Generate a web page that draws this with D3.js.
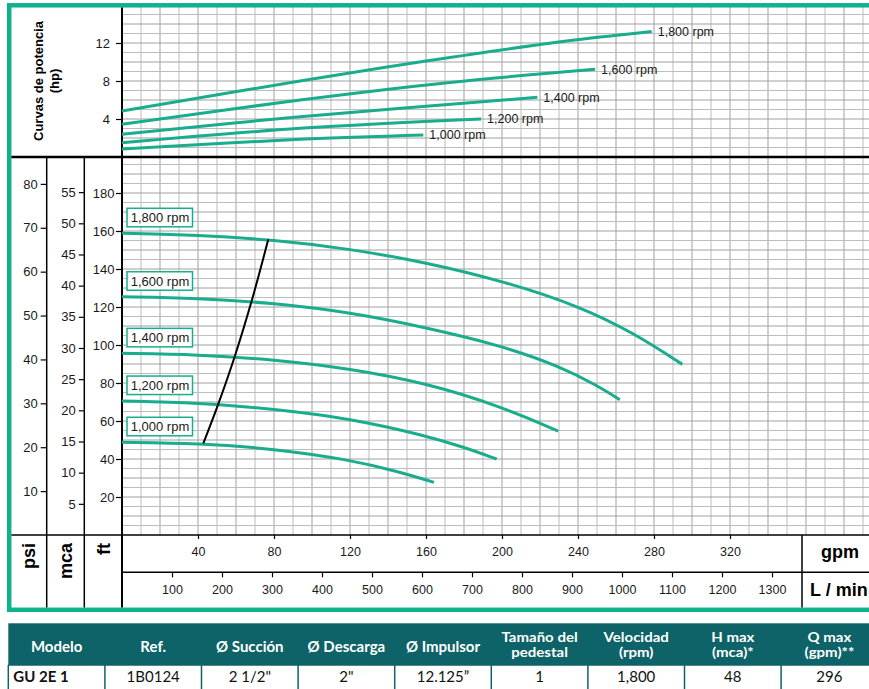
<!DOCTYPE html>
<html><head><meta charset="utf-8">
<script src="https://cdn.jsdelivr.net/npm/d3@7"></script>
<style>body{margin:0;background:#fff;overflow:hidden} svg{display:block}</style>
</head><body>
<svg id="c" width="869" height="689"></svg>
<script>
// ---------- DATA ----------
const rpmLabels = ["1,000 rpm","1,200 rpm","1,400 rpm","1,600 rpm","1,800 rpm"];

// Head curves (gpm, ft)
const headQ_1000 = [0, 40, 80, 120, 145, 164.2];
const headH_1000 = [48.8, 48.3, 45.4, 39.6, 33.5, 27.7];
const headQ_1200 = [0, 40, 80, 120, 160, 180, 197.2];
const headH_1200 = [70.5, 69.7, 66.3, 61.4, 52.3, 46.2, 40.0];
const headQ_1400 = [0, 40, 80, 120, 160, 200, 229.6];
const headH_1400 = [95.6, 95.0, 92.3, 87.6, 80.0, 67.5, 54.7];
const headQ_1600 = [0, 40, 80, 120, 160, 200, 230, 250, 262];
const headH_1600 = [125.4, 124.7, 122.0, 117.2, 109.2, 99.6, 88.9, 78.8, 71.2];
const headQ_1800 = [0, 40, 80, 120, 160, 200, 240, 270, 294.9];
const headH_1800 = [158.8, 157.9, 155.3, 150.6, 143.5, 133.8, 120.8, 106.0, 89.8];

// Black line across curves (gpm, ft)
const bepQ = [42.8, 50.7, 59.5, 68.3, 77.0];
const bepH = [48.2, 69.0, 94.5, 123.4, 155.6];

// Power curves (gpm, hp)
const powQ_1000 = [0, 93.7, 158.6];
const powP_1000 = [0.84, 1.86, 2.32];
const powQ_1200 = [0, 93.7, 189];
const powP_1200 = [1.5, 3.02, 4.0];
const powQ_1400 = [0, 93.7, 218.6];
const powP_1400 = [2.39, 4.24, 6.28];
const powQ_1600 = [0, 93.7, 172.6, 249];
const powP_1600 = [3.44, 6.0, 7.85, 9.23];
const powQ_1800 = [0, 93.7, 160, 227, 278.8];
const powP_1800 = [4.84, 8.0, 10.1, 12.03, 13.2];

// Ticks
const gpmTicks = [40, 80, 120, 160, 200, 240, 280, 320];
const lpmTicks = [100, 200, 300, 400, 500, 600, 700, 800, 900, 1000, 1100, 1200, 1300];
const ftTicks = [20, 40, 60, 80, 100, 120, 140, 160, 180];
const psiTicks = [10, 20, 30, 40, 50, 60, 70, 80];
const mcaTicks = [5, 10, 15, 20, 25, 30, 35, 40, 45, 50, 55];
const hpTicks = [4, 8, 12];

// Table
const tableHeaders = ["Modelo","Ref.","Ø Succión","Ø Descarga","Ø Impulsor","Tamaño del\npedestal","Velocidad\n(rpm)","H max\n(mca)*","Q max\n(gpm)**"];
const tableRow = ["GU 2E 1","1B0124","2 1/2\"","2\"","12.125\u201D","1","1,800","48","296"];

// ---------- DRAW ----------
const W = 869;
const FONT = "'Liberation Sans', Arial, Helvetica, sans-serif";
const TFONT = "Lato, 'Open Sans', sans-serif";
const GREEN = "#19ad8e", FRAME = "#10b28e", TEAL = "#0d6367";
const svg = d3.select("#c").style("font-family", FONT);

const x = d3.scaleLinear().domain([0, 100]).range([122, 312]);
const xL = d3.scaleLinear().domain([0, 1000]).range([122, 622]);
const yFt = d3.scaleLinear().domain([0, 100]).range([535, 345]);
const yPsi = d3.scaleLinear().domain([0, 100]).range([535, 535 - 100 * 2.31 * 1.9]);
const yMca = d3.scaleLinear().domain([0, 100]).range([535, 535 - 100 * 3.281 * 1.9]);
const yHp = d3.scaleLinear().domain([0, 10]).range([157, 62]);

// grid
const grid = svg.append("g").attr("stroke-width", 1);
d3.range(10, 400, 10).forEach(q => {
  if (x(q) < W) grid.append("line").attr("x1", x(q)).attr("x2", x(q)).attr("y1", 7).attr("y2", 535)
    .attr("stroke", (q % 20 === 0) ? "#a0a0a0" : "#bdbdbd");
});
d3.range(5, 200, 5).forEach(f => {
  grid.append("line").attr("x1", 122).attr("x2", W).attr("y1", yFt(f)).attr("y2", yFt(f))
    .attr("stroke", (f % 10 === 0) ? "#a0a0a0" : "#bdbdbd");
});
d3.range(1, 16, 1).forEach(h => {
  grid.append("line").attr("x1", 122).attr("x2", W).attr("y1", yHp(h)).attr("y2", yHp(h))
    .attr("stroke", (h % 2 === 0) ? "#a0a0a0" : "#bdbdbd");
});

// frame and structure lines
svg.append("rect").attr("x", 9.2).attr("y", 5.3).attr("width", 900).attr("height", 604.5)
  .attr("fill", "none").attr("stroke", FRAME).attr("stroke-width", 4.5);
const ln = (x1, y1, x2, y2, w) => svg.append("line").attr("x1", x1).attr("y1", y1).attr("x2", x2).attr("y2", y2)
  .attr("stroke", "#000").attr("stroke-width", w);
ln(11.4, 157, W, 157, 2.5);
ln(122, 7.5, 122, 607.5, 2);
ln(46.7, 157, 46.7, 607.5, 1.5);
ln(84.3, 157, 84.3, 607.5, 1.5);
ln(11.4, 535, W, 535, 1.5);
ln(122, 572.3, W, 572.3, 1.5);
ln(802, 535, 802, 607.5, 1.5);

// left axes
function leftAxis(scale, ticks, xpos, size, pad) {
  const g = svg.append("g").attr("transform", `translate(${xpos},0)`)
    .call(d3.axisLeft(scale).tickValues(ticks).tickSize(size).tickPadding(pad));
  g.select(".domain").remove();
  g.selectAll("line").attr("stroke", "#000").attr("stroke-width", 1.2);
  g.selectAll("text").attr("font-size", 13).attr("font-family", FONT).attr("fill", "#1a1a1a");
  return g;
}
leftAxis(yFt, ftTicks, 122, 6, 1.5);
leftAxis(yPsi, psiTicks, 46.7, 6, 3);
leftAxis(yMca, mcaTicks, 84.3, 5.5, 3);
leftAxis(yHp, hpTicks, 122, 6, 6);

// bottom axes
function bottomAxis(scale, ticks, ypos, size) {
  const g = svg.append("g").attr("transform", `translate(0,${ypos})`)
    .call(d3.axisBottom(scale).tickValues(ticks).tickSize(size).tickFormat(d3.format("d")));
  g.select(".domain").remove();
  g.selectAll("line").attr("stroke", "#000").attr("stroke-width", 1.2);
  g.selectAll("text").attr("y", 17).attr("dy", "0.35em").attr("font-size", 12.5)
    .attr("font-family", FONT).attr("fill", "#1a1a1a");
}
bottomAxis(x, gpmTicks, 535, 4);
bottomAxis(xL, lpmTicks, 572.3, 5);

// unit labels
svg.append("text").attr("x", 840).attr("y", 552).attr("dy", "0.35em").attr("text-anchor", "middle")
  .attr("font-weight", "bold").attr("font-size", 18).text("gpm");
svg.append("text").attr("x", 810).attr("y", 590).attr("dy", "0.35em").attr("text-anchor", "start")
  .attr("font-weight", "bold").attr("font-size", 18).text("L / min");
[["psi", 28.5], ["mca", 66], ["ft", 103.5]].forEach(([t, cx]) => {
  svg.append("text").attr("transform", `translate(${cx},543) rotate(-90)`)
    .attr("text-anchor", "end").attr("dominant-baseline", "central")
    .attr("font-weight", "bold").attr("font-size", 18).text(t);
});
svg.append("text").attr("transform", "translate(38,81) rotate(-90)").attr("text-anchor", "middle")
  .attr("dominant-baseline", "central").attr("font-weight", "bold").attr("font-size", 13).text("Curvas de potencia");
svg.append("text").attr("transform", "translate(54.5,81) rotate(-90)").attr("text-anchor", "middle")
  .attr("dominant-baseline", "central").attr("font-weight", "bold").attr("font-size", 13).text("(hp)");

// head curves
const headQ = [headQ_1000, headQ_1200, headQ_1400, headQ_1600, headQ_1800];
const headH = [headH_1000, headH_1200, headH_1400, headH_1600, headH_1800];
const lineFt = d3.line().x(d => x(d[0])).y(d => yFt(d[1])).curve(d3.curveBasis);
headQ.forEach((q, i) => {
  svg.append("path").attr("d", lineFt(d3.zip(q, headH[i]))).attr("fill", "none")
    .attr("stroke", GREEN).attr("stroke-width", 3);
});
// black line
svg.append("path").attr("d", d3.line().x(d => x(d[0])).y(d => yFt(d[1])).curve(d3.curveCatmullRom)(d3.zip(bepQ, bepH)))
  .attr("fill", "none").attr("stroke", "#000").attr("stroke-width", 2);

// rpm boxes
headQ.forEach((q, i) => {
  const top = yFt(headH[i][0]) - 25;
  svg.append("rect").attr("x", 127).attr("y", top).attr("width", 65.5).attr("height", 18.5)
    .attr("fill", "#fff").attr("stroke", GREEN).attr("stroke-width", 1.5);
  svg.append("text").attr("x", 160).attr("y", top + 9.5).attr("dy", "0.35em").attr("text-anchor", "middle")
    .attr("font-size", 13).attr("fill", "#1a1a1a").text(rpmLabels[i]);
});

// power curves
const powQ = [powQ_1000, powQ_1200, powQ_1400, powQ_1600, powQ_1800];
const powP = [powP_1000, powP_1200, powP_1400, powP_1600, powP_1800];
const lineHp = d3.line().x(d => x(d[0])).y(d => yHp(d[1])).curve(d3.curveCatmullRom.alpha(0.5));
powQ.forEach((q, i) => {
  svg.append("path").attr("d", lineHp(d3.zip(q, powP[i]))).attr("fill", "none")
    .attr("stroke", GREEN).attr("stroke-width", 3);
  const n = q.length - 1;
  svg.append("text").attr("x", x(q[n]) + 6).attr("y", yHp(powP[i][n])).attr("dy", "0.35em")
    .attr("font-size", 12.5).attr("fill", "#1a1a1a").text(rpmLabels[i]);
});

// table
const colX0 = 8.3, colW = 96.6;
const tg = svg.append("g").style("font-family", TFONT);
tg.append("rect").attr("x", colX0).attr("y", 623.3).attr("width", 900).attr("height", 41.7).attr("fill", TEAL);
function headerLine(txt, cx, y, twoLine) {
  const t = tg.append("text").attr("x", cx).attr("y", y).attr("text-anchor", "middle").attr("fill", "#fff")
    .attr("font-weight", "bold").attr("font-size", 15).text(txt);
  if (twoLine) {
    const L = t.node().getComputedTextLength();
    t.attr("font-size", 12.8).attr("textLength", L).attr("lengthAdjust", "spacingAndGlyphs");
  }
}
tableHeaders.forEach((h, i) => {
  const cx = colX0 + colW * (i + 0.5);
  const lines = h.split("\n");
  if (lines.length === 1) headerLine(lines[0], cx, 652, false);
  else { headerLine(lines[0], cx, 641.5, true); headerLine(lines[1], cx, 657, true); }
});
// body row
tg.append("line").attr("x1", colX0).attr("x2", W).attr("y1", 665).attr("y2", 665).attr("stroke", TEAL).attr("stroke-width", 1.5);
d3.range(0, 10).forEach(i => {
  const xx = colX0 + colW * i;
  tg.append("line").attr("x1", xx).attr("x2", xx).attr("y1", 665).attr("y2", 689)
    .attr("stroke", TEAL).attr("stroke-width", 1.5);
});
tableRow.forEach((v, i) => {
  const t = tg.append("text").attr("y", 682).attr("font-size", 15).attr("fill", "#111");
  if (i === 0) t.attr("x", colX0 + 5).attr("font-weight", "bold").text(v);
  else t.attr("x", colX0 + colW * (i + 0.5)).attr("text-anchor", "middle").text(v);
});
</script>
</body></html>
